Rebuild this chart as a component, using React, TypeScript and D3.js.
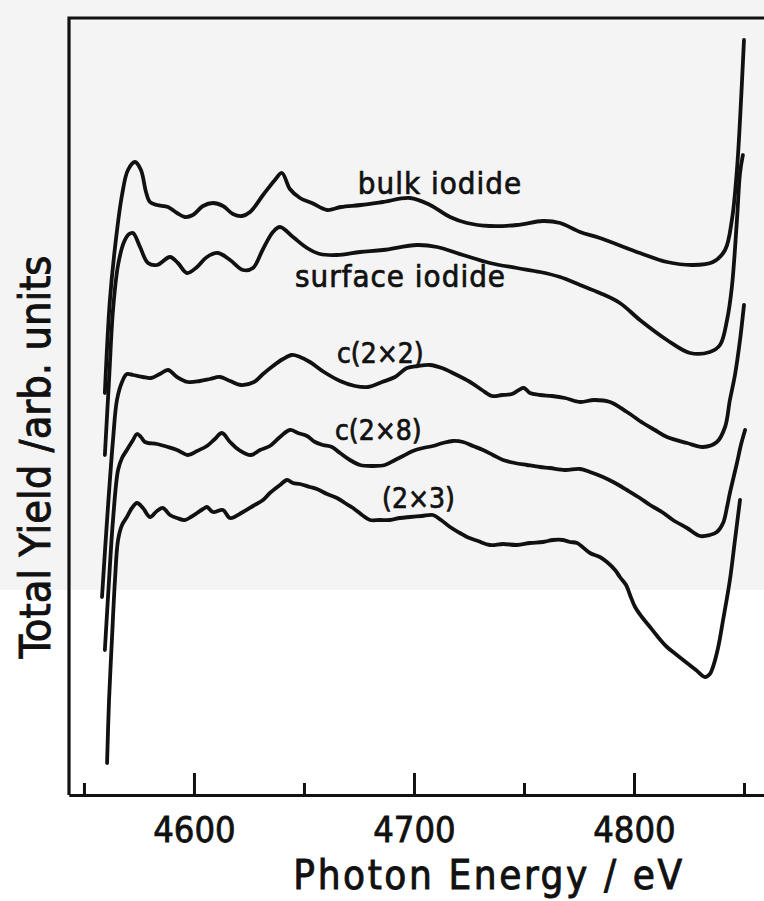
import * as d3 from "d3";
import React, { useEffect, useRef } from "react";

// photon energy (eV), total yield (arb. units)
const bulkIodide: [number, number][] = [
  [4559.5, 4.02], [4561.8, 4.95], [4564.5, 5.55], [4567.3, 6.0], [4570.0, 6.25], [4573.2, 6.33],
  [4575.9, 6.25], [4578.2, 6.03], [4580.0, 5.93], [4583.2, 5.9], [4588.2, 5.88], [4592.3, 5.82],
  [4595.9, 5.78], [4599.5, 5.8], [4604.1, 5.89], [4608.6, 5.92], [4613.2, 5.89], [4617.7, 5.81],
  [4621.8, 5.79], [4625.5, 5.83], [4631.4, 6.0], [4636.8, 6.15], [4640.0, 6.22], [4643.6, 6.06],
  [4648.2, 5.97], [4653.6, 5.92], [4660.5, 5.85], [4666.8, 5.88], [4675.9, 5.9], [4685.9, 5.93],
  [4698.2, 5.97], [4707.3, 5.9], [4716.4, 5.78], [4724.1, 5.72], [4734.5, 5.69], [4746.8, 5.7],
  [4758.6, 5.74], [4766.4, 5.72], [4775.5, 5.63], [4784.5, 5.57], [4802.7, 5.42], [4815.0, 5.33],
  [4826.8, 5.3], [4835.9, 5.33], [4841.4, 5.45], [4844.5, 5.75], [4846.8, 6.25], [4848.2, 6.75],
  [4850.0, 7.55],
];

const surfaceIodide: [number, number][] = [
  [4559.5, 3.4], [4561.4, 4.15], [4563.2, 4.85], [4565.5, 5.3], [4568.2, 5.53], [4570.5, 5.61],
  [4572.3, 5.62], [4575.5, 5.48], [4579.1, 5.32], [4583.2, 5.3], [4589.1, 5.38], [4592.7, 5.32],
  [4596.8, 5.22], [4601.4, 5.28], [4605.9, 5.38], [4610.9, 5.42], [4616.4, 5.35], [4622.3, 5.25],
  [4626.8, 5.27], [4631.4, 5.46], [4635.9, 5.63], [4639.1, 5.68], [4645.0, 5.58], [4651.4, 5.47],
  [4657.3, 5.41], [4665.0, 5.4], [4675.5, 5.43], [4685.9, 5.45], [4701.4, 5.5], [4710.5, 5.48],
  [4722.3, 5.4], [4734.5, 5.32], [4746.8, 5.27], [4757.3, 5.23], [4766.4, 5.18], [4775.5, 5.1],
  [4784.5, 5.02], [4793.6, 4.92], [4802.7, 4.75], [4815.0, 4.55], [4825.5, 4.42], [4834.5, 4.43],
  [4839.1, 4.5], [4842.3, 4.75], [4844.5, 5.08], [4846.8, 5.75], [4848.2, 6.22], [4849.5, 6.4],
];

const c2x2: [number, number][] = [
  [4558.2, 1.98], [4560.5, 2.75], [4563.2, 3.55], [4565.0, 3.95], [4567.3, 4.13], [4569.5, 4.21],
  [4572.3, 4.2], [4576.8, 4.18], [4580.5, 4.17], [4584.5, 4.21], [4588.2, 4.25], [4592.3, 4.18],
  [4597.3, 4.13], [4602.7, 4.14], [4607.3, 4.16], [4611.8, 4.18], [4616.4, 4.14], [4621.4, 4.1],
  [4627.3, 4.13], [4631.4, 4.21], [4635.9, 4.29], [4640.5, 4.36], [4644.5, 4.4], [4648.2, 4.38],
  [4652.7, 4.33], [4659.1, 4.23], [4666.4, 4.14], [4673.2, 4.09], [4679.1, 4.08], [4685.5, 4.13],
  [4691.4, 4.18], [4696.8, 4.27], [4701.8, 4.29], [4707.3, 4.3], [4712.7, 4.27], [4718.6, 4.21],
  [4725.5, 4.13], [4730.9, 4.05], [4735.5, 3.99], [4740.0, 4.0], [4744.5, 4.01], [4747.7, 4.05],
  [4750.0, 4.07], [4752.7, 4.02], [4757.3, 4.0], [4762.7, 3.99], [4768.6, 3.97], [4775.5, 3.93],
  [4781.8, 3.95], [4789.1, 3.93], [4796.8, 3.83], [4804.1, 3.72], [4809.5, 3.65], [4815.0, 3.58],
  [4824.1, 3.52], [4831.4, 3.48], [4837.7, 3.53], [4841.4, 3.68], [4843.6, 3.95], [4845.9, 4.2],
  [4848.2, 4.55], [4850.0, 4.9],
];

const c2x8: [number, number][] = [
  [4559.5, 1.45], [4561.4, 2.15], [4563.2, 2.75], [4565.5, 3.25], [4567.3, 3.37], [4569.5, 3.45],
  [4572.3, 3.55], [4574.1, 3.61], [4575.9, 3.58], [4577.7, 3.53], [4583.2, 3.51], [4588.2, 3.48],
  [4592.3, 3.45], [4597.3, 3.4], [4601.4, 3.44], [4605.9, 3.49], [4609.5, 3.56], [4612.7, 3.62],
  [4616.4, 3.53], [4620.5, 3.45], [4625.9, 3.4], [4630.0, 3.45], [4634.5, 3.49], [4639.1, 3.58],
  [4643.6, 3.65], [4647.3, 3.62], [4651.4, 3.59], [4655.0, 3.53], [4658.6, 3.5], [4662.7, 3.48],
  [4666.4, 3.42], [4670.9, 3.35], [4675.5, 3.3], [4680.9, 3.29], [4686.8, 3.3], [4691.4, 3.35],
  [4695.0, 3.39], [4699.5, 3.44], [4704.1, 3.47], [4708.6, 3.49], [4713.2, 3.52], [4717.7, 3.54],
  [4722.3, 3.53], [4726.8, 3.49], [4731.4, 3.45], [4735.9, 3.4], [4740.5, 3.35], [4745.9, 3.32],
  [4751.4, 3.3], [4757.3, 3.28], [4761.8, 3.27], [4768.6, 3.25], [4775.5, 3.26], [4780.0, 3.23],
  [4785.9, 3.18], [4791.4, 3.12], [4796.8, 3.05], [4802.7, 2.97], [4807.3, 2.9], [4812.7, 2.83],
  [4817.7, 2.75], [4824.1, 2.67], [4830.0, 2.59], [4834.5, 2.6], [4837.7, 2.63], [4840.5, 2.72],
  [4842.3, 2.88], [4843.6, 3.02], [4846.8, 3.32], [4848.6, 3.5], [4850.5, 3.65],
];

const p2x3: [number, number][] = [
  [4560.5, 0.32], [4561.4, 0.95], [4562.7, 1.55], [4564.1, 2.15], [4565.5, 2.55], [4567.3, 2.7],
  [4569.5, 2.78], [4571.8, 2.87], [4574.1, 2.92], [4576.8, 2.87], [4580.0, 2.78], [4583.2, 2.84],
  [4585.9, 2.87], [4589.1, 2.8], [4592.3, 2.77], [4595.9, 2.75], [4598.6, 2.78], [4601.4, 2.82],
  [4604.1, 2.86], [4605.9, 2.88], [4608.6, 2.83], [4613.2, 2.85], [4616.4, 2.77], [4622.3, 2.83],
  [4626.8, 2.89], [4631.4, 2.95], [4634.5, 3.02], [4639.1, 3.1], [4642.3, 3.15], [4645.0, 3.12],
  [4648.2, 3.11], [4652.7, 3.08], [4655.9, 3.06], [4660.5, 3.01], [4665.0, 2.97], [4668.6, 2.92],
  [4672.3, 2.87], [4676.4, 2.8], [4680.0, 2.75], [4684.5, 2.75], [4689.1, 2.75], [4693.6, 2.77],
  [4698.2, 2.78], [4703.6, 2.79], [4708.6, 2.8], [4712.3, 2.75], [4716.4, 2.68], [4720.9, 2.62],
  [4724.1, 2.58], [4729.1, 2.54], [4734.5, 2.5], [4740.5, 2.51], [4746.8, 2.5], [4752.7, 2.52],
  [4758.6, 2.53], [4763.2, 2.55], [4767.7, 2.55], [4770.9, 2.53], [4774.1, 2.52], [4780.0, 2.42],
  [4784.5, 2.38], [4787.7, 2.33], [4791.4, 2.25], [4793.6, 2.18], [4796.4, 2.1], [4798.2, 2.0],
  [4800.5, 1.88], [4803.6, 1.78], [4807.3, 1.68], [4810.9, 1.58], [4815.0, 1.48], [4819.5, 1.4],
  [4824.1, 1.32], [4828.2, 1.25], [4832.3, 1.18], [4834.5, 1.21], [4835.9, 1.28], [4838.2, 1.47],
  [4840.5, 1.75], [4843.6, 2.15], [4845.9, 2.55], [4848.2, 2.95],
];

const series = [bulkIodide, surfaceIodide, c2x2, c2x8, p2x3];
const seriesNames = ["bulk iodide", "surface iodide", "c(2×2)", "c(2×8)", "(2×3)"];
// where each name sits: [energy, yield] of the text start
const nameAnchors: [number, number][] = [
  [4674.5, 6.01], [4645.9, 5.08], [4665.0, 4.32], [4664.1, 3.55], [4685.5, 2.87],
];
const majorTicks = [4600, 4700, 4800];
const minorTicks = [4550, 4650, 4750, 4850];
const xTitle = "Photon Energy / eV";
const yTitle = "Total Yield /arb. units";

const W = 764;
const H = 901;
const FONT = "'DejaVu Sans Condensed', 'DejaVu Sans', sans-serif";
const INK = "#111";

export default function App() {
  const ref = useRef<SVGSVGElement>(null);

  useEffect(() => {
    const svg = d3.select(ref.current);
    svg.selectAll("*").remove();

    const left = 69, right = W, top = 18, bottom = 795;
    const x = d3.scaleLinear().domain([4543.2, 4859.1]).range([left, right]);
    const y = d3.scaleLinear().domain([0, 7.77]).range([bottom, top]);

    // faint grey of the scanned upper half
    svg.append("rect").attr("width", W).attr("height", 590).attr("fill", "#f4f4f4");

    // frame: top and left
    svg.append("path")
      .attr("d", `M${right},${top}H${left}V${bottom}`)
      .attr("fill", "none")
      .attr("stroke", INK)
      .attr("stroke-width", 3.2);

    const major = svg.append("g")
      .attr("transform", `translate(0,${bottom})`)
      .call(d3.axisBottom(x).tickValues(majorTicks).tickSizeInner(-22).tickSizeOuter(0).tickFormat(d3.format("d")));
    const minor = svg.append("g")
      .attr("transform", `translate(0,${bottom})`)
      .call(d3.axisBottom(x).tickValues(minorTicks).tickSizeInner(-12).tickSizeOuter(0).tickFormat(() => ""));

    [major, minor].forEach((g) => {
      g.select(".domain").attr("stroke", INK).attr("stroke-width", 3.2);
      g.selectAll(".tick line").attr("stroke", INK).attr("stroke-width", 3);
    });
    major.selectAll(".tick text")
      .attr("y", 47)
      .attr("dy", 0)
      .attr("fill", INK)
      .attr("stroke", INK)
      .attr("stroke-width", 0.8)
      .style("font-family", FONT)
      .style("font-size", "36px");

    const line = d3.line<[number, number]>()
      .x((d) => x(d[0]))
      .y((d) => y(d[1]))
      .curve(d3.curveCatmullRom.alpha(0.5));

    svg.append("g")
      .selectAll("path")
      .data(series)
      .join("path")
      .attr("d", (d) => line(d))
      .attr("fill", "none")
      .attr("stroke", INK)
      .attr("stroke-width", 3.8)
      .attr("stroke-linejoin", "round")
      .attr("stroke-linecap", "round");

    svg.append("g")
      .selectAll("text")
      .data(seriesNames)
      .join("text")
      .attr("x", (_, i) => x(nameAnchors[i][0]))
      .attr("y", (_, i) => y(nameAnchors[i][1]))
      .attr("fill", INK)
      .attr("stroke", INK)
      .attr("stroke-width", 0.7)
      .style("font-family", FONT)
      .style("font-size", (_, i) => (i < 2 ? "31px" : "28px"))
      .style("letter-spacing", (_, i) => (i < 2 ? "1px" : "0px"))
      .text((d) => d);

    svg.append("text")
      .attr("x", 489)
      .attr("y", 889)
      .attr("text-anchor", "middle")
      .attr("fill", INK)
      .attr("stroke", INK)
      .attr("stroke-width", 0.9)
      .style("font-family", FONT)
      .style("font-size", "40px")
      .style("letter-spacing", "2.6px")
      .text(xTitle);

    svg.append("text")
      .attr("transform", `translate(50,457) rotate(-90)`)
      .attr("text-anchor", "middle")
      .attr("fill", INK)
      .attr("stroke", INK)
      .attr("stroke-width", 0.9)
      .style("font-family", FONT)
      .style("font-size", "43px")
      .text(yTitle);
  }, []);

  return (
    <svg
      ref={ref}
      width={W}
      height={H}
      style={{ position: "absolute", left: 0, top: 0, background: "#fff" }}
    />
  );
}
